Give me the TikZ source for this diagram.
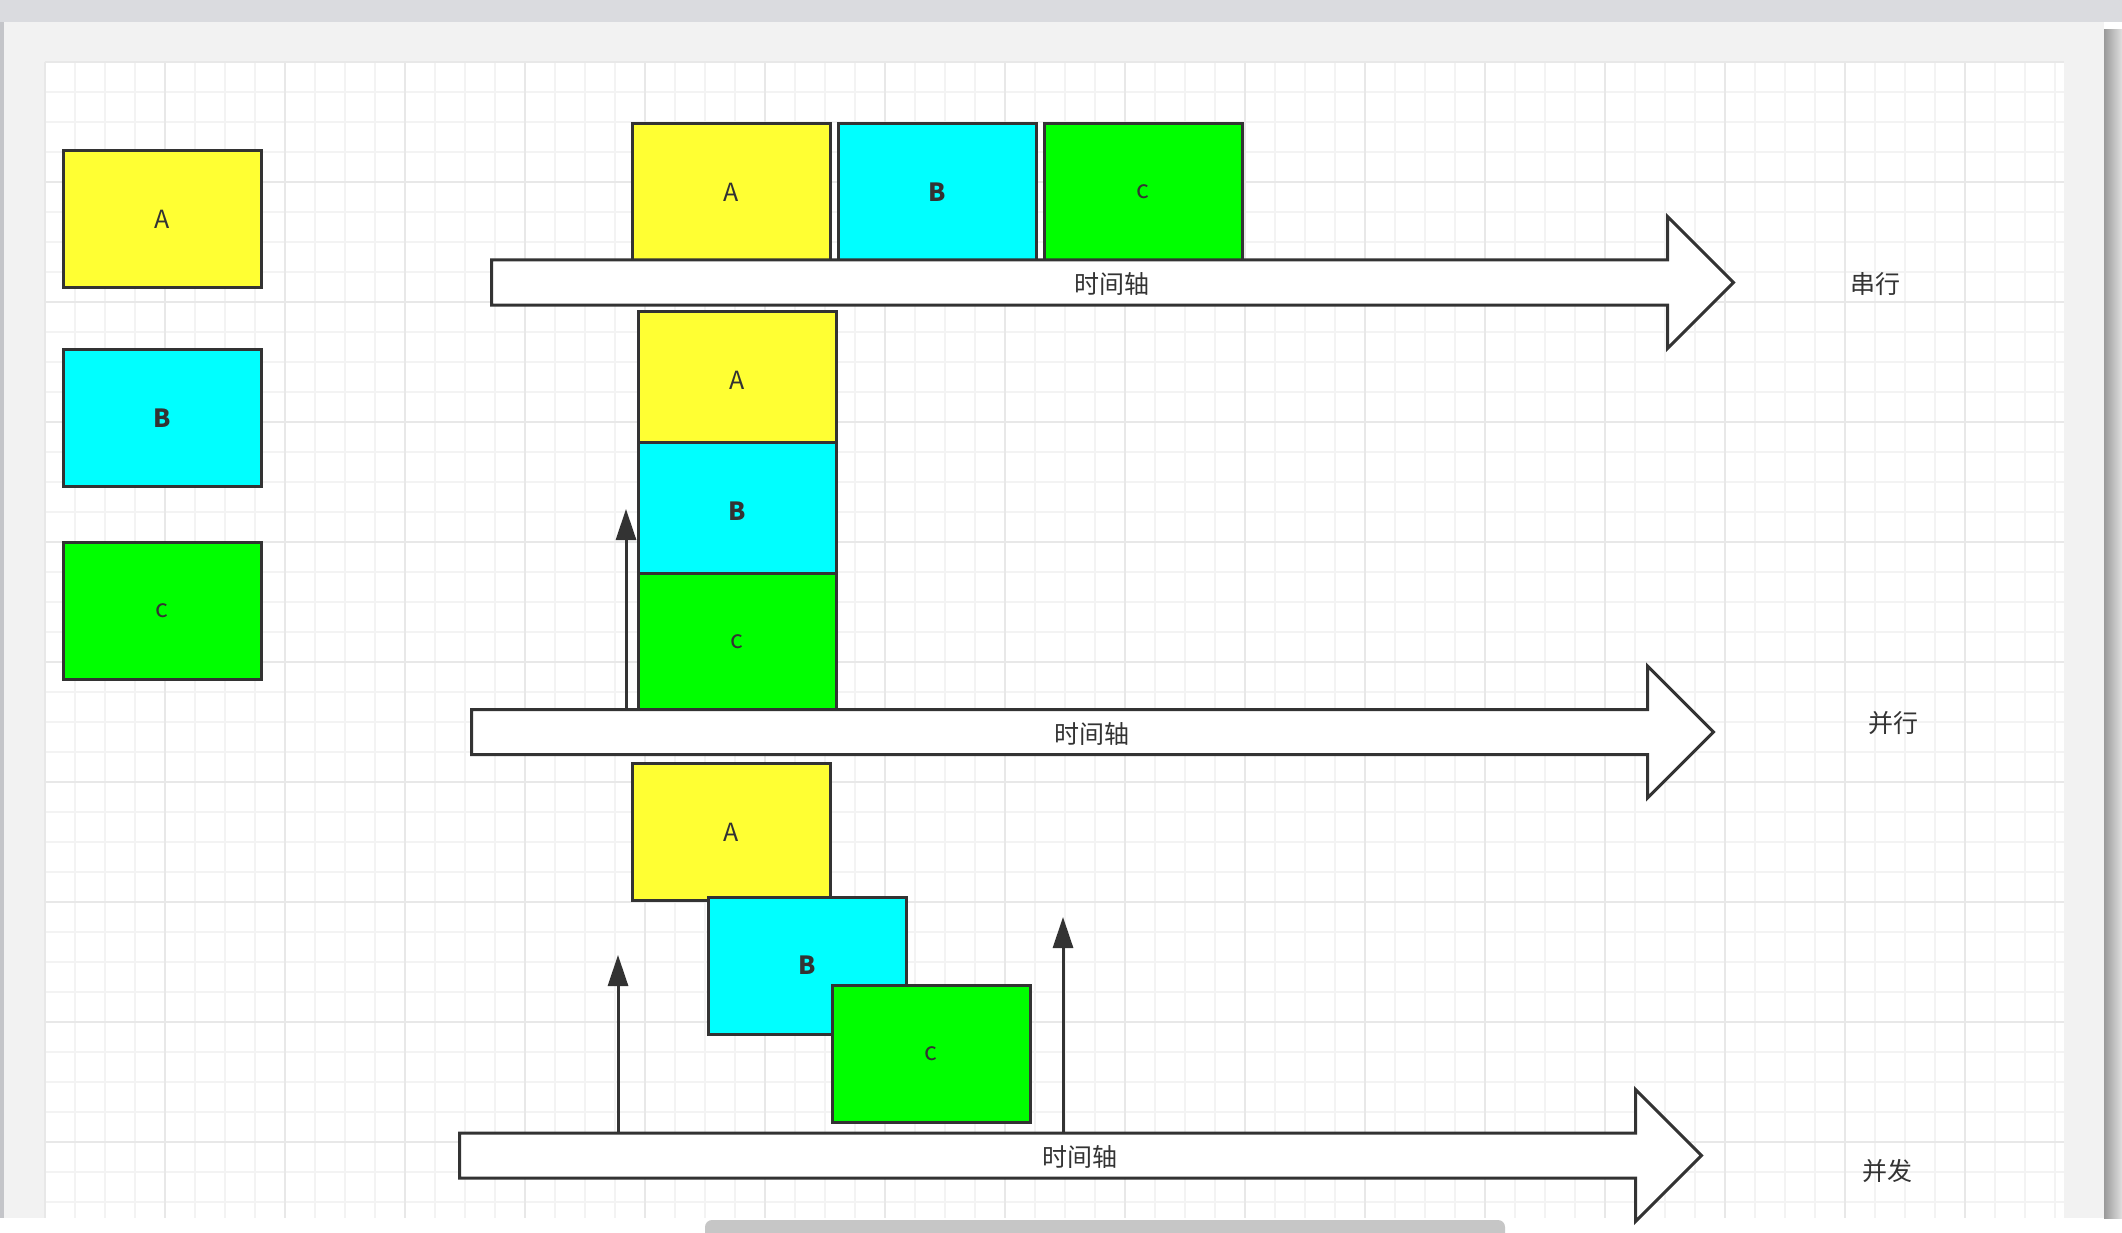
\documentclass[tikz,border=0pt]{standalone}
\usepackage{fontspec}
\setmainfont{Noto Sans CJK SC}
\usetikzlibrary{arrows.meta, positioning, shapes.arrows}

\definecolor{ink}{HTML}{333333}
\definecolor{boxyellow}{HTML}{FFFF33}
\definecolor{boxcyan}{HTML}{00FFFF}
\definecolor{boxgreen}{HTML}{00FF00}
\definecolor{gridminor}{HTML}{F3F3F3}
\definecolor{gridmajor}{HTML}{E8E8E8}
\definecolor{page}{HTML}{F2F2F2}
\definecolor{frame}{HTML}{DADBDF}
\definecolor{scroll}{HTML}{C6C6C6}

\begin{document}
\begin{tikzpicture}[
    x=1pt,
    y=-1pt,
    font=\fontsize{25}{30}\selectfont,
    box/.style={draw=ink, line width=3pt, minimum width=198pt,
        minimum height=137pt, inner sep=0pt, text=ink},
    timeline/.style={single arrow, draw=ink, fill=white, line width=3pt,
        single arrow head extend=43.5pt, minimum height=1242pt,
        text height=22pt, text depth=-1pt, inner ysep=10pt,
        inner xsep=0pt, text=ink, anchor=tail},
    tag/.style={text=ink},
    rise/.style={draw=ink, line width=3pt, -{Triangle[length=31pt, width=20pt]}},
    minor/.style={draw=gridminor, line width=2pt},
    major/.style={draw=gridmajor, line width=2pt},
]
    \useasboundingbox (0,0) rectangle (2122,1233);

    % canvas
    \fill[white] (0,0) rectangle (2122,1233);
    \fill[frame] (0,0) rectangle (2122,22);
    \fill[frame!90!black] (0,22) rectangle (4,1218);
    \fill[page] (4,22) rectangle (2104,1218);
    \shade[left color=black!40, right color=black!12] (2104,30) rectangle (2122,1218);
    \fill[white] (45,62) rectangle (2064,1218);
    \foreach \gx in {45,75,...,2055}
        \draw[minor] (\gx,62) -- (\gx,1218);
    \foreach \gy in {62,92,...,1202}
        \draw[minor] (45,\gy) -- (2064,\gy);
    \foreach \gx in {45,165,...,2055}
        \draw[major] (\gx,62) -- (\gx,1218);
    \foreach \gy in {62,182,...,1202}
        \draw[major] (45,\gy) -- (2064,\gy);
    \fill[scroll, rounded corners=7pt] (705,1220) rectangle (1505,1240);

    % legend
    \node[box, fill=boxyellow] (lA) at (162,219) {A};
    \node[box, fill=boxcyan]   (lB) at (162,418) {\bfseries B};
    \node[box, fill=boxgreen]  (lC) at (162,611) {c};

    % serial
    \node[box, fill=boxyellow]                  (sA) at (731,192) {A};
    \node[box, fill=boxcyan,  right=5pt of sA]  (sB) {\bfseries B};
    \node[box, fill=boxgreen, right=5pt of sB]  (sC) {c};
    \node[timeline] (axS) at (490,282.5) {\hspace*{22pt}时间轴};
    \node[tag] (lblS) at (1875,284) {串行};

    % parallel
    \node[box, fill=boxyellow]                  (pA) at (737,380) {A};
    \node[box, fill=boxcyan,  below=-9pt of pA] (pB) {\bfseries B};
    \node[box, fill=boxgreen, below=-9pt of pB] (pC) {c};
    \node[timeline] (axP) at (470,732) {\hspace*{22pt}时间轴};
    \node[tag] (lblP) at (1893,723) {并行};
    \coordinate (tP) at (626,509);
    \draw[rise] (tP |- axP.before head) -- (tP);

    % concurrent
    \node[timeline] (axC) at (458,1155.5) {\hspace*{22pt}时间轴};
    \node[box, fill=boxyellow] (cA) at (731,832)    {A};
    \node[box, fill=boxcyan]   (cB) at (807,965.5)  {\bfseries B};
    \node[box, fill=boxgreen]  (cC) at (931,1053.5) {c};
    \node[tag] (lblC) at (1887,1171) {并发};
    \coordinate (tC1) at (618,955);
    \coordinate (tC2) at (1063,917);
    \draw[rise] (tC1 |- axC.before head) -- (tC1);
    \draw[rise] (tC2 |- axC.before head) -- (tC2);
\end{tikzpicture}
\end{document}
